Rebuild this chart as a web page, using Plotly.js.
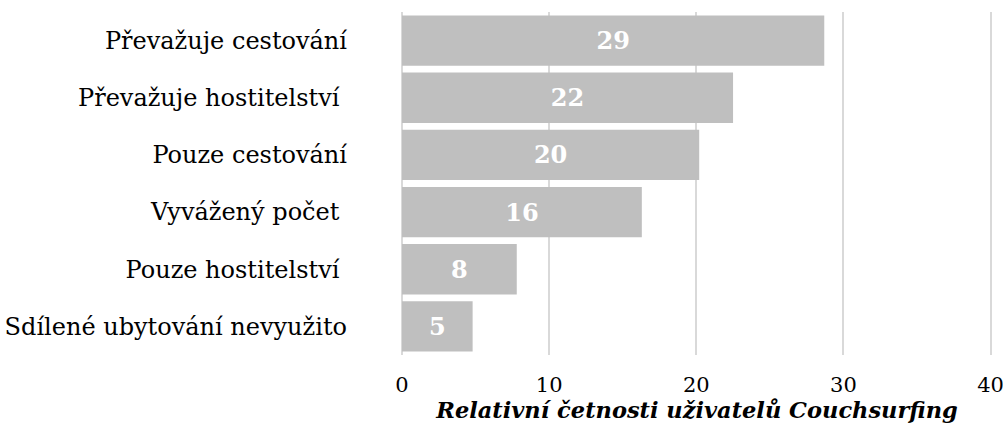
<!DOCTYPE html>
<html>
<head>
<meta charset="utf-8">
<script src="https://cdn.plot.ly/plotly-3.0.1.min.js"></script>
<style>html,body{margin:0;padding:0;background:#fff;}#chart{width:1003px;height:429px;}</style>
</head>
<body>
<div id="chart"></div>
<script>
const categories = ["Převažuje cestování", "Převažuje hostitelství ", "Pouze cestování", "Vyvážený počet ", "Pouze hostitelství ", "Sdílené ubytování nevyužito"];
const values = [28.7, 22.5, 20.2, 16.3, 7.8, 4.8];
const labels = ["29", "22", "20", "16", "8", "5"];
const xTicks = [0, 10, 20, 30, 40];
const xTitle = "Relativní četnosti uživatelů Couchsurfing";

const serif = "DejaVu Serif, Liberation Serif, serif";

const trace = {
  type: "bar",
  orientation: "h",
  y: categories,
  x: values,
  text: labels,
  textposition: "inside",
  insidetextanchor: "middle",
  textangle: 0,
  textfont: {family: serif, size: 24, color: "#ffffff", weight: "bold"},
  marker: {color: "#bfbfbf"},
  hoverinfo: "none"
};

const layout = {
  width: 1003,
  height: 429,
  margin: {l: 402, r: 11, t: 12, b: 74},
  paper_bgcolor: "#ffffff",
  plot_bgcolor: "#ffffff",
  showlegend: false,
  bargap: 0.12,
  xaxis: {
    range: [0, 40.1],
    tickvals: xTicks,
    showgrid: true,
    gridcolor: "#d9d9d9",
    gridwidth: 2,
    zeroline: true,
    zerolinecolor: "#d9d9d9",
    zerolinewidth: 2,
    showline: false,
    ticks: "",
    ticklabelstandoff: 15,
    ticklabeloverflow: "allow",
    tickfont: {family: serif, size: 21, color: "#000000"},
    title: {text: xTitle, standoff: 3, font: {family: serif, size: 22.5, color: "#000000", weight: "bold", style: "italic"}},
    fixedrange: true
  },
  yaxis: {
    autorange: "reversed",
    type: "category",
    showgrid: false,
    zeroline: false,
    showline: false,
    ticks: "",
    ticklabelstandoff: 54,
    tickfont: {family: serif, size: 24, color: "#000000"},
    fixedrange: true
  }
};

Plotly.newPlot("chart", [trace], layout, {displayModeBar: false, staticPlot: true});
</script>
</body>
</html>
